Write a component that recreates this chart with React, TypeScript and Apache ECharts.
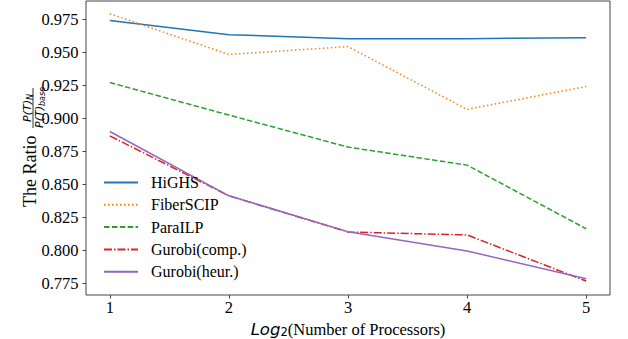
import React, { useEffect, useRef } from "react";
import * as echarts from "echarts";

const xValues = [1, 2, 3, 4, 5];
const xTicks = [1, 2, 3, 4, 5];
const yTicks = [0.775, 0.8, 0.825, 0.85, 0.875, 0.9, 0.925, 0.95, 0.975];

const seriesNames = ["HiGHS", "FiberSCIP", "ParaILP", "Gurobi(comp.)", "Gurobi(heur.)"];
const highs = [0.9743, 0.9635, 0.9605, 0.9605, 0.9612];
const fiberScip = [0.9794, 0.9485, 0.9545, 0.9068, 0.9242];
const paraIlp = [0.9272, 0.9025, 0.8782, 0.8645, 0.8162];
const gurobiComp = [0.8867, 0.8412, 0.8137, 0.8115, 0.7765];
const gurobiHeur = [0.8900, 0.8412, 0.8140, 0.7993, 0.7783];

const colors = ["#1f77b4", "#ff7f0e", "#2ca02c", "#d62728", "#9467bd"];
const dashes: (string | number[])[] = ["solid", [1.5, 2.5], [5.5, 2.4], [8, 2, 1.5, 2], "solid"];

const SERIF = "Liberation Serif";
const SANS = "DejaVu Sans";

export default function App() {
  const ref = useRef<HTMLDivElement>(null);
  useEffect(() => {
    if (!ref.current) return;
    const chart = echarts.init(ref.current, undefined, { renderer: "svg" });
    const all = [highs, fiberScip, paraIlp, gurobiComp, gurobiHeur];
    const series = all.map((vals, i) => ({
      name: seriesNames[i],
      type: "line",
      data: vals.map((v, j) => [xValues[j], v]),
      showSymbol: false,
      symbol: "none",
      lineStyle: { color: colors[i], width: 1.5, type: dashes[i] as any, cap: "butt" },
      itemStyle: { color: colors[i] },
      emphasis: { disabled: true },
    }));
    const mathText = (text: string, x: number, y: number, size: number) => ({
      type: "text",
      x,
      y,
      style: {
        text,
        fontFamily: SANS,
        fontStyle: "italic",
        fontSize: size,
        fill: "#000",
        align: "left",
        verticalAlign: "middle",
      },
    });
    chart.setOption({
      animation: false,
      backgroundColor: "#fff",
      textStyle: { fontFamily: SERIF },
      grid: {
        left: 86,
        right: 18,
        top: 1,
        bottom: 44,
        containLabel: false,
        outerBoundsMode: "none",
        show: true,
        borderColor: "#444",
        borderWidth: 1,
        backgroundColor: "transparent",
      },
      xAxis: {
        type: "value",
        min: 0.8,
        max: 5.2,
        splitLine: { show: false },
        axisLine: { show: false },
        axisTick: { show: true, inside: false, length: 3.5, lineStyle: { color: "#444", width: 1 }, customValues: xTicks },
        axisLabel: {
          customValues: xTicks,
          color: "#000",
          fontFamily: SERIF,
          fontSize: 16.5,
          margin: 4,
        },
        name: "{a|Log}{b|2}{c|(Number of Processors)}",
        nameLocation: "middle",
        nameGap: 22,
        nameTextStyle: {
          rich: {
            a: { fontFamily: SANS, fontStyle: "italic", fontSize: 16.5, color: "#000", lineHeight: 17, verticalAlign: "middle" },
            b: { fontFamily: SANS, fontSize: 11.5, color: "#000", lineHeight: 17, verticalAlign: "bottom" },
            c: { fontFamily: SERIF, fontSize: 16.5, color: "#000", lineHeight: 17, verticalAlign: "middle" },
          },
        },
      },
      yAxis: {
        type: "value",
        min: 0.7659,
        max: 0.9891,
        splitLine: { show: false },
        axisLine: { show: false },
        axisTick: { show: true, inside: false, length: 3.5, lineStyle: { color: "#444", width: 1 }, customValues: yTicks },
        axisLabel: {
          customValues: yTicks,
          color: "#000",
          fontFamily: SERIF,
          fontSize: 16.5,
          margin: 7.5,
          formatter: (v: number) => v.toFixed(3),
        },
      },
      legend: {
        orient: "vertical",
        left: 98,
        top: 169,
        itemWidth: 34,
        itemHeight: 14,
        itemGap: 5.3,
        data: seriesNames,
        selectedMode: false,
        itemStyle: { opacity: 0 },
        textStyle: { fontFamily: SERIF, fontSize: 16, color: "#000", lineHeight: 17, padding: [0, 0, 0, 8] },
      },
      graphic: [
        {
          type: "group",
          x: 0,
          y: 210,
          rotation: Math.PI / 2,
          children: [
            {
              type: "text",
              x: 3,
              y: 30,
              style: {
                text: "The Ratio",
                fontFamily: SERIF,
                fontSize: 18,
                fill: "#000",
                align: "left",
                verticalAlign: "middle",
              },
            },
            mathText("P(T)", 88, 27, 11),
            mathText("N", 110, 30, 8),
            {
              type: "line",
              shape: { x1: 82, y1: 33, x2: 122, y2: 33 },
              style: { stroke: "#000", lineWidth: 0.8 },
            },
            mathText("P(T)", 82, 39, 11),
            mathText("base", 104, 42, 8),
          ],
        },
      ],
      series,
    });
    return () => chart.dispose();
  }, []);
  return (
    <div
      ref={ref}
      style={{ position: "fixed", left: 0, top: 0, width: 628, height: 339, background: "#fff" }}
    />
  );
}
